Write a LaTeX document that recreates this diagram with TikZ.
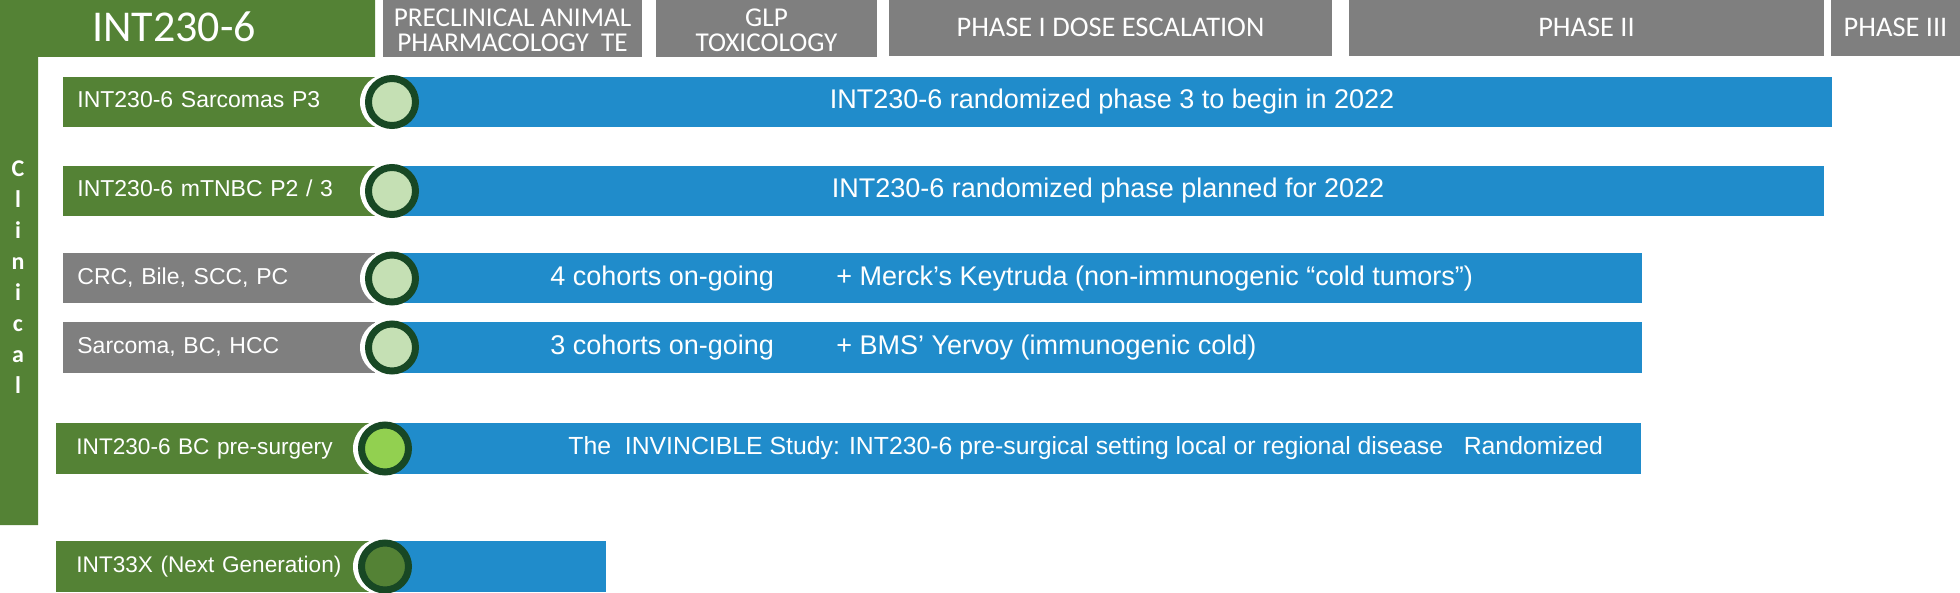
\documentclass[tikz,border=0pt]{standalone}
\usepackage{fontspec}
\setmainfont{Liberation Sans}
\newfontfamily\calib{Carlito}
\definecolor{pgreen}{RGB}{84,130,53}
\definecolor{pgray}{RGB}{127,127,127}
\definecolor{pblue}{RGB}{32,140,203}
\definecolor{plight}{RGB}{197,224,180}
\definecolor{plime}{RGB}{146,208,80}
\definecolor{pring}{RGB}{24,72,36}
\begin{document}
\begin{tikzpicture}[x=0.5pt,y=-0.5pt,
  hdr/.style={fill=pgray,text=white,inner sep=0pt,minimum height=28.5pt,align=center,
    font=\calib\fontsize{14.2}{15}\selectfont},
  hdrtwo/.style={hdr,font=\calib\fontsize{13.6}{12.3}\selectfont},
  lab/.style={anchor=west,inner ysep=0pt,inner xsep=7pt,minimum height=25pt,text=white,
    align=left,text width=142pt,font=\fontsize{11.5}{13}\selectfont,text height=8.2pt,text depth=2.3pt},
  labb/.style={lab,inner xsep=10pt,text width=139.5pt,minimum height=25.5pt,font=\fontsize{11.3}{13}\selectfont},
  halo/.style={circle,fill=white,inner sep=0pt,minimum size=28pt},
  bar/.style={fill=pblue,inner sep=0pt,minimum height=25pt,text=white,
    font=\fontsize{13.5}{15}\selectfont,text height=9.7pt,text depth=2.7pt},
  dot/.style={circle,draw=pring,line width=3.5pt,fill=plight,inner sep=0pt,minimum size=23.5pt},
  btxt/.style={anchor=west,inner sep=0pt,text=white,font=\fontsize{13.5}{15}\selectfont,
    text height=9.7pt,text depth=2.7pt},
  clin/.style={anchor=base,inner sep=0pt,text=white,font=\calib\bfseries\fontsize{12}{12}\selectfont}
]
\useasboundingbox (0,0) rectangle (1960,593);
% green L frame
\fill[pgreen] (0,0) -- (375,0) -- (375,57) -- (38,57) -- (38,525) -- (0,525) -- cycle;
\node[inner sep=0pt,text=white,font=\calib\fontsize{22}{22}\selectfont] (title) at (174,27) {INT230-6};
\foreach \ch [count=\i] in {C,l,i,n,i,c,a,l}
  \node[clin] (cl\i) at (18,{177+30.9*(\i-1)}) {\ch};
% headers
\path[fill=pgray] (383,0) rectangle (642,57);
\node[hdrtwo,fill=none] (hpre) at (512.5,30.5) {PRECLINICAL ANIMAL\\PHARMACOLOGY\ \ TE};
\path[fill=pgray] (656,0) rectangle (877,57);
\node[hdrtwo,fill=none] (hglp) at (766.5,30) {GLP\\TOXICOLOGY};
\node[hdr,minimum width=221.5pt] (hp1) at (1110.5,27.5) {PHASE I DOSE ESCALATION};
\node[hdr,minimum width=237.5pt] (hp2) at (1586.5,27.5) {PHASE II};
\node[hdr,minimum width=64.5pt] (hp3) at (1895.5,27.5) {PHASE III};
% label boxes
\node[lab,fill=pgreen] (lab1) at (63,102) {INT230-6 Sarcomas P3};
\node[lab,fill=pgreen] (lab2) at (63,191) {INT230-6 mTNBC P2 / 3};
\node[lab,fill=pgray] (lab3) at (63,278.5) {CRC, Bile, SCC, PC};
\node[lab,fill=pgray] (lab4) at (63,347.5) {Sarcoma, BC, HCC};
\node[labb,fill=pgreen] (lab5) at (56,448.5) {INT230-6 BC pre-surgery};
\node[labb,fill=pgreen] (lab6) at (56,566.5) {INT33X (Next Generation)};
% halos
\node[halo] (h1) at (388,102) {};
\node[halo] (h2) at (388,191) {};
\node[halo] (h3) at (388,278.5) {};
\node[halo] (h4) at (388,347.5) {};
\node[halo] (h5) at (381,448.5) {};
\node[halo] (h6) at (381,566.5) {};
% blue bars
\node[bar,minimum width=720pt] (bar1) at (1112,102) {INT230-6 randomized phase 3 to begin in 2022};
\node[bar,minimum width=716pt] (bar2) at (1108,191) {INT230-6 randomized phase planned for 2022};
\node[bar,minimum width=625pt] (bar3) at (1017,278.5) {};
\node[bar,minimum width=625pt] (bar4) at (1017,347.5) {};
\node[bar,minimum width=628pt,minimum height=25.5pt] (bar5) at (1013,448.5) {};
\node[bar,minimum width=110.5pt,minimum height=25.5pt] (bar6) at (495.5,566.5) {};
% milestone dots
\node[dot] (d1) at (392,102) {};
\node[dot] (d2) at (392,191) {};
\node[dot] (d3) at (392,278.5) {};
\node[dot] (d4) at (392,347.5) {};
\node[dot,fill=plime] (d5) at (385,448.5) {};
\node[dot,fill=pgreen] (d6) at (385,566.5) {};
% bar texts
\node[btxt] (t3a) at (550,278.5) {4 cohorts on-going};
\node[btxt] (t3b) at (836,278.5) {+ Merck’s Keytruda (non-immunogenic “cold tumors”)};
\node[btxt] (t4a) at (550,347.5) {3 cohorts on-going};
\node[btxt] (t4b) at (836,347.5) {+ BMS’ Yervoy (immunogenic cold)};
\node[btxt,font=\fontsize{12.4}{14}\selectfont,text height=8.9pt,text depth=2.5pt] (t5) at (568,448.5)
  {The\ \ INVINCIBLE Study: INT230-6 pre-surgical setting local or regional disease\ \ \ Randomized};
\end{tikzpicture}
\end{document}
